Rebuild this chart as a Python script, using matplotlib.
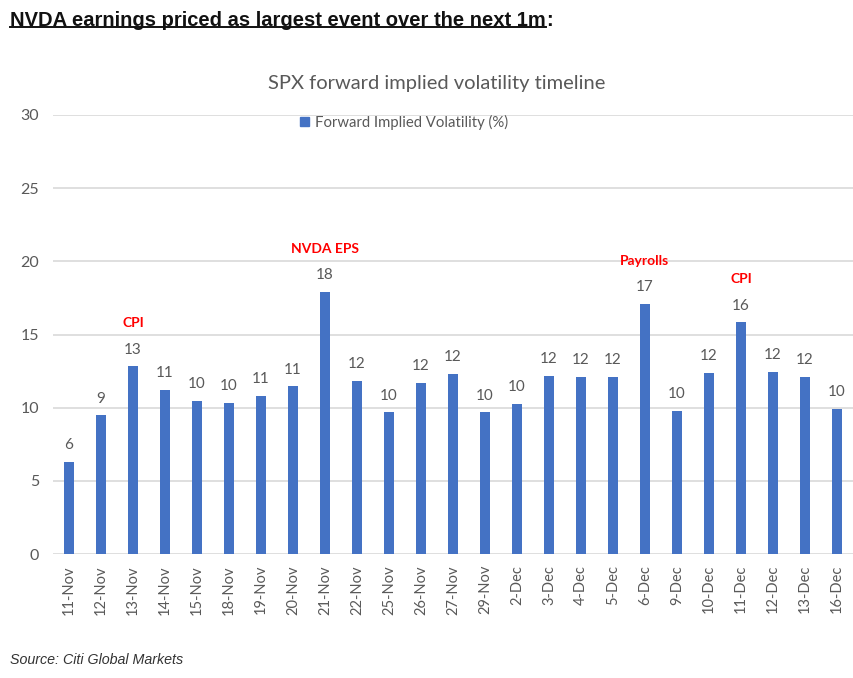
import matplotlib
matplotlib.use("Agg")
import matplotlib.pyplot as plt
from matplotlib.patches import Patch
from matplotlib.lines import Line2D
import numpy as np

# Data
dates = ["11-Nov", "12-Nov", "13-Nov", "14-Nov", "15-Nov", "18-Nov", "19-Nov",
         "20-Nov", "21-Nov", "22-Nov", "25-Nov", "26-Nov", "27-Nov", "29-Nov",
         "2-Dec", "3-Dec", "4-Dec", "5-Dec", "6-Dec", "9-Dec", "10-Dec",
         "11-Dec", "12-Dec", "13-Dec", "16-Dec"]
fwd_vol = [6.3, 9.47, 12.83, 11.23, 10.48, 10.34, 10.8, 11.46, 17.9, 11.85,
           9.68, 11.71, 12.31, 9.68, 10.27, 12.19, 12.1, 12.1, 17.1, 9.79,
           12.37, 15.84, 12.44, 12.1, 9.93]
events = {"13-Nov": "CPI", "21-Nov": "NVDA EPS", "6-Dec": "Payrolls", "11-Dec": "CPI"}
y_ticks = [0, 5, 10, 15, 20, 25, 30]

BLUE = "#4472C4"
GREY = "#595959"
GRID = "#D9D9D9"
CHART_FONT = "Lato"

fig = plt.figure(figsize=(8.54, 6.78), dpi=100)
ax = fig.add_axes([53 / 854, 1 - 554 / 678, 800 / 854, 439 / 678])

x = np.arange(len(dates))
bars = ax.bar(x, fwd_vol, width=0.31, color=BLUE, zorder=3)

ax.set_xlim(-0.5, len(dates) - 0.5)
ax.set_ylim(0, 30)
ax.set_yticks(y_ticks)
ax.set_yticklabels([str(t) for t in y_ticks], fontsize=11.5, color=GREY, family=CHART_FONT)
ax.set_xticks(x)
ax.set_xticklabels(dates, rotation=90, fontsize=10.5, color=GREY, family=CHART_FONT)
ax.tick_params(axis="both", length=0, pad=8)
ax.tick_params(axis="y", pad=10)
ax.grid(axis="y", color=GRID, lw=1.2, zorder=0)
for side in ["top", "right", "left", "bottom"]:
    ax.spines[side].set_visible(False)

# value labels and event tags
for xi, d, v in zip(x, dates, fwd_vol):
    ax.annotate(f"{v:.0f}", (xi, v), xytext=(0, 12), textcoords="offset points",
                ha="center", va="center", fontsize=11, color=GREY, family=CHART_FONT)
    if d in events:
        ax.annotate(events[d], (xi, v), xytext=(0, 31), textcoords="offset points",
                    ha="center", va="center", fontsize=10, color="#FF0000",
                    fontweight="bold", family=CHART_FONT)

# chart title and legend
fig.text(437 / 854, 1 - 83 / 678, "SPX forward implied volatility timeline",
         ha="center", va="center", fontsize=14.5, color=GREY, family=CHART_FONT)
fig.legend(handles=[Patch(color=BLUE, label="Forward Implied Volatility (%)")],
           loc="center", bbox_to_anchor=(404 / 854, 1 - 122 / 678), frameon=False,
           handlelength=0.6, handleheight=0.6, handletextpad=0.4,
           prop={"family": CHART_FONT, "size": 10.7}, labelcolor=GREY)

# headline, underlined except the colon
head = fig.text(10 / 854, 1 - 20 / 678, "NVDA earnings priced as largest event over the next 1m",
                ha="left", va="center", fontsize=14.5, fontweight="bold",
                family="Liberation Sans", color="#111111")
fig.canvas.draw()
bb = head.get_window_extent().transformed(fig.transFigure.inverted())
fig.text(bb.x1, 1 - 20 / 678, ":", ha="left", va="center", fontsize=14.5,
         fontweight="bold", family="Liberation Sans", color="#111111")
uy = bb.y0 + 3 / 678
fig.add_artist(Line2D([bb.x0, bb.x1], [uy, uy], color="#111111", lw=1.4,
                      transform=fig.transFigure))

fig.text(10 / 854, 1 - 660 / 678, "Source: Citi Global Markets", ha="left", va="center",
         fontsize=10.3, style="italic", family="Liberation Sans", color="#333333")

fig.savefig("out.png", dpi=100)
